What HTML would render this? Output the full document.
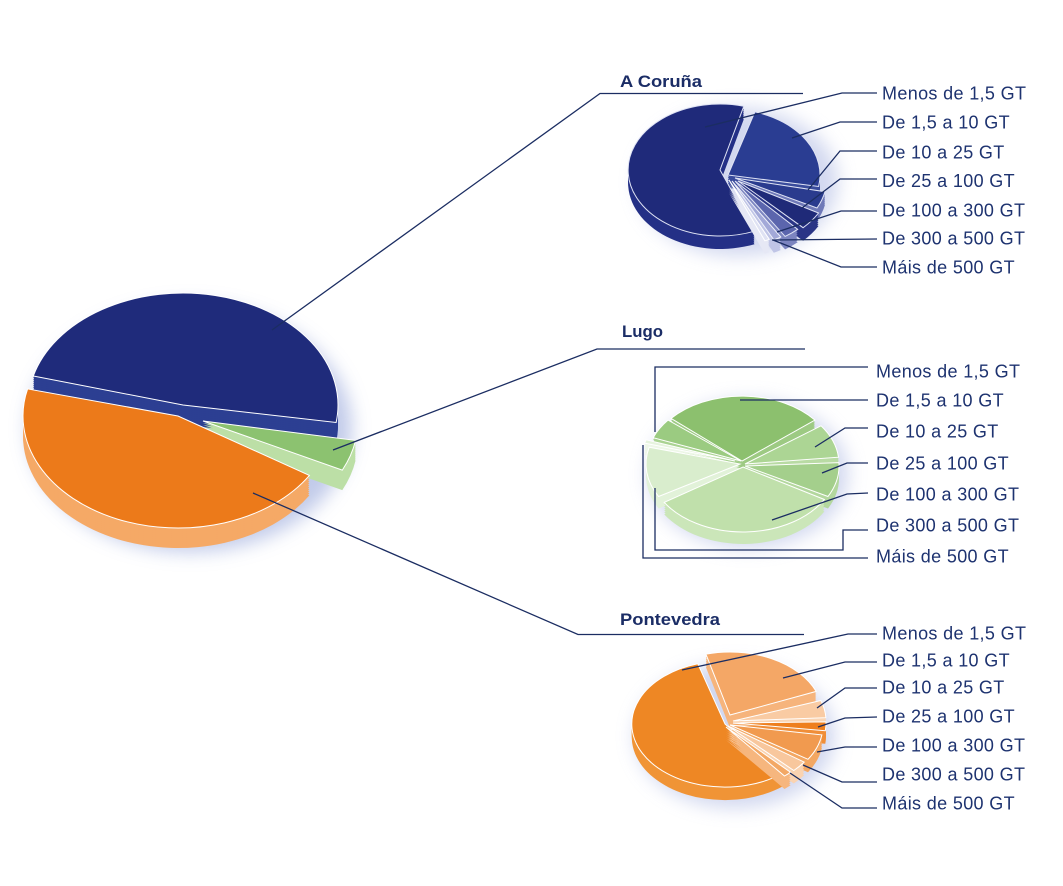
<!DOCTYPE html>
<html><head><meta charset="utf-8"><style>
html,body{margin:0;padding:0;background:#fff}
svg{display:block}
.l{font-family:"Liberation Sans",sans-serif;font-size:18px;fill:#1e3370;letter-spacing:0.35px}
.t{font-family:"Liberation Sans",sans-serif;font-size:16.5px;font-weight:bold;fill:#1b2d66}
.ln{fill:none;stroke:#1b2d62;stroke-width:1.3}
</style></head><body>
<svg width="1063" height="886" viewBox="0 0 1063 886" xmlns="http://www.w3.org/2000/svg">
<defs>
<filter id="bl" x="-30%" y="-30%" width="160%" height="160%"><feGaussianBlur stdDeviation="9"/></filter>
<path id="mb" d="M183,405 L33.3,376 A155,112 0 0,1 336.1,422.5 Z"/>
<path id="mg" d="M203,421 L355.6,440.4 A155,112 0 0,1 342.3,470.1 Z"/>
<path id="mo" d="M178,416 L309.4,475.4 A155,112 0 0,1 27.6,388.9 Z"/>
<path id="ca" d="M728,175 L754.9,111.9 A92,66 0 0,1 818.6,186.5 Z"/>
<path id="cb" d="M720,170 L754.5,231.2 A92,66 0 1,1 743.8,106.2 Z"/>
<path id="cc" d="M735,178 L825,191.7 A92,66 0 0,1 817,208 Z"/>
<path id="cd" d="M738,181 L818.5,213 A92,66 0 0,1 803.1,227.7 Z"/>
<path id="ce" d="M735,181 L797.7,229.3 A92,66 0 0,1 785.1,236.4 Z"/>
<path id="cf" d="M732,181 L780.8,237 A92,66 0 0,1 773.8,239.8 Z"/>
<path id="cg" d="M729,180 L769.3,239.3 A92,66 0 0,1 764.9,240.8 Z"/>
<path id="la" d="M742,461 L671.1,418.4 A94,65 0 0,1 815,420.1 Z"/>
<path id="lg" d="M741,461 L653.2,437.7 A94,65 0 0,1 668,420.1 Z"/>
<path id="lf" d="M735,461 L644.6,443.1 A94,65 0 0,1 646.1,439.8 Z"/>
<path id="lb" d="M745,464 L821,425.8 A94,65 0 0,1 838.5,457.2 Z"/>
<path id="lc" d="M745,466 L838.9,462.6 A94,65 0 0,1 828,496.5 Z"/>
<path id="le" d="M740,464 L658.6,496.5 A94,65 0 0,1 649.2,447.2 Z"/>
<path id="ld" d="M743,467 L824.4,499.5 A94,65 0 0,1 664.2,502.4 Z"/>
<path id="pa" d="M730,715 L705.9,654.1 A93,63 0 0,1 816.2,691.4 Z"/>
<path id="pb" d="M725,724 L782.3,773.6 A93,63 0 1,1 697.8,663.8 Z"/>
<path id="pc" d="M733,721 L820.9,700.5 A93,63 0 0,1 825.9,717.7 Z"/>
<path id="pd" d="M733,723 L826,721.9 A93,63 0 0,1 825.3,730.7 Z"/>
<path id="pe" d="M730,725 L821.9,734.9 A93,63 0 0,1 808,759.3 Z"/>
<path id="pf" d="M728,726 L804.2,762.1 A93,63 0 0,1 793.8,770.5 Z"/>
<path id="pg" d="M726,727 L790.6,772.3 A93,63 0 0,1 784.5,776 Z"/>
</defs>
<rect width="1063" height="886" fill="#fff"/>

<!-- halos -->
<ellipse cx="190" cy="428" rx="162" ry="124" fill="#b2bee4" opacity="0.8" filter="url(#bl)"/>
<ellipse cx="738" cy="182" rx="100" ry="74" fill="#c3cbea" opacity="0.75" filter="url(#bl)"/>
<ellipse cx="748" cy="474" rx="100" ry="74" fill="#c3cbea" opacity="0.75" filter="url(#bl)"/>
<ellipse cx="735" cy="736" rx="100" ry="72" fill="#c3cbea" opacity="0.75" filter="url(#bl)"/>

<!-- MAIN PIE -->
<g fill="#2c3f92"><use href="#mb" y="20"/><use href="#mb" y="18"/><use href="#mb" y="16"/><use href="#mb" y="14"/><use href="#mb" y="12"/><use href="#mb" y="10"/><use href="#mb" y="8"/><use href="#mb" y="6"/><use href="#mb" y="4"/><use href="#mb" y="2"/></g>
<use href="#mb" fill="#1f2b7b" stroke="#fff" stroke-width="1"/>
<g fill="#bcdfa6"><use href="#mg" y="20"/><use href="#mg" y="18"/><use href="#mg" y="16"/><use href="#mg" y="14"/><use href="#mg" y="12"/><use href="#mg" y="10"/><use href="#mg" y="8"/><use href="#mg" y="6"/><use href="#mg" y="4"/><use href="#mg" y="2"/></g>
<use href="#mg" fill="#8cc270" stroke="#fff" stroke-width="1"/>
<g fill="#f5a966"><use href="#mo" y="20"/><use href="#mo" y="18"/><use href="#mo" y="16"/><use href="#mo" y="14"/><use href="#mo" y="12"/><use href="#mo" y="10"/><use href="#mo" y="8"/><use href="#mo" y="6"/><use href="#mo" y="4"/><use href="#mo" y="2"/></g>
<use href="#mo" fill="#ec7a1a" stroke="#fff" stroke-width="1"/>

<!-- A CORUNA PIE -->
<g fill="#3a4c9c"><use href="#ca" y="13"/><use href="#ca" y="11"/><use href="#ca" y="9"/><use href="#ca" y="7"/><use href="#ca" y="5"/><use href="#ca" y="3"/><use href="#ca" y="1"/></g>
<use href="#ca" fill="#2a3d92" stroke="#dfe3f4" stroke-width="1"/>
<g fill="#243086"><use href="#cb" y="13"/><use href="#cb" y="11"/><use href="#cb" y="9"/><use href="#cb" y="7"/><use href="#cb" y="5"/><use href="#cb" y="3"/><use href="#cb" y="1"/></g>
<use href="#cb" fill="#1f2a7a" stroke="#dfe3f4" stroke-width="1"/>
<g fill="#6f79b8"><use href="#cc" y="13"/><use href="#cc" y="11"/><use href="#cc" y="9"/><use href="#cc" y="7"/><use href="#cc" y="5"/><use href="#cc" y="3"/><use href="#cc" y="1"/></g>
<use href="#cc" fill="#2a3b8e" stroke="#dfe3f4" stroke-width="1"/>
<g fill="#2a3586"><use href="#cd" y="13"/><use href="#cd" y="11"/><use href="#cd" y="9"/><use href="#cd" y="7"/><use href="#cd" y="5"/><use href="#cd" y="3"/><use href="#cd" y="1"/></g>
<use href="#cd" fill="#1f2a78" stroke="#dfe3f4" stroke-width="1"/>
<g fill="#7c85c0"><use href="#ce" y="13"/><use href="#ce" y="11"/><use href="#ce" y="9"/><use href="#ce" y="7"/><use href="#ce" y="5"/><use href="#ce" y="3"/><use href="#ce" y="1"/></g>
<use href="#ce" fill="#5b65ad" stroke="#dfe3f4" stroke-width="1"/>
<g fill="#c0c5e6"><use href="#cf" y="13"/><use href="#cf" y="11"/><use href="#cf" y="9"/><use href="#cf" y="7"/><use href="#cf" y="5"/><use href="#cf" y="3"/><use href="#cf" y="1"/></g>
<use href="#cf" fill="#a3a9d8" stroke="#eef0fa" stroke-width="1"/>
<g fill="#e6e8f5"><use href="#cg" y="13"/><use href="#cg" y="11"/><use href="#cg" y="9"/><use href="#cg" y="7"/><use href="#cg" y="5"/><use href="#cg" y="3"/><use href="#cg" y="1"/></g>
<use href="#cg" fill="#dfe2f3" stroke="#fff" stroke-width="1"/>

<!-- LUGO PIE -->
<g fill="#9dca83"><use href="#la" y="12"/><use href="#la" y="10"/><use href="#la" y="8"/><use href="#la" y="6"/><use href="#la" y="4"/><use href="#la" y="2"/></g>
<use href="#la" fill="#8cc06e" stroke="#fff" stroke-width="1"/>
<g fill="#aad392"><use href="#lg" y="12"/><use href="#lg" y="10"/><use href="#lg" y="8"/><use href="#lg" y="6"/><use href="#lg" y="4"/><use href="#lg" y="2"/></g>
<use href="#lg" fill="#9bcb81" stroke="#fff" stroke-width="1"/>
<g fill="#eef7e8"><use href="#lf" y="12"/><use href="#lf" y="10"/><use href="#lf" y="8"/><use href="#lf" y="6"/><use href="#lf" y="4"/><use href="#lf" y="2"/></g>
<use href="#lf" fill="#e6f3de" stroke="#fff" stroke-width="1"/>
<g fill="#b9dba4"><use href="#lb" y="12"/><use href="#lb" y="10"/><use href="#lb" y="8"/><use href="#lb" y="6"/><use href="#lb" y="4"/><use href="#lb" y="2"/></g>
<use href="#lb" fill="#acd594" stroke="#fff" stroke-width="1"/>
<g fill="#b3d79e"><use href="#lc" y="12"/><use href="#lc" y="10"/><use href="#lc" y="8"/><use href="#lc" y="6"/><use href="#lc" y="4"/><use href="#lc" y="2"/></g>
<use href="#lc" fill="#a4cf8c" stroke="#fff" stroke-width="1"/>
<g fill="#e2f2d9"><use href="#le" y="12"/><use href="#le" y="10"/><use href="#le" y="8"/><use href="#le" y="6"/><use href="#le" y="4"/><use href="#le" y="2"/></g>
<use href="#le" fill="#d9edcd" stroke="#fff" stroke-width="1"/>
<g fill="#cbe6b9"><use href="#ld" y="12"/><use href="#ld" y="10"/><use href="#ld" y="8"/><use href="#ld" y="6"/><use href="#ld" y="4"/><use href="#ld" y="2"/></g>
<use href="#ld" fill="#c0e0ab" stroke="#fff" stroke-width="1"/>

<!-- PONTEVEDRA PIE -->
<g fill="#f6b47c"><use href="#pa" y="13"/><use href="#pa" y="11"/><use href="#pa" y="9"/><use href="#pa" y="7"/><use href="#pa" y="5"/><use href="#pa" y="3"/><use href="#pa" y="1"/></g>
<use href="#pa" fill="#f4a766" stroke="#fff" stroke-width="1"/>
<g fill="#f09436"><use href="#pb" y="13"/><use href="#pb" y="11"/><use href="#pb" y="9"/><use href="#pb" y="7"/><use href="#pb" y="5"/><use href="#pb" y="3"/><use href="#pb" y="1"/></g>
<use href="#pb" fill="#ee8724" stroke="#fff" stroke-width="1"/>
<g fill="#fad5b4"><use href="#pc" y="13"/><use href="#pc" y="11"/><use href="#pc" y="9"/><use href="#pc" y="7"/><use href="#pc" y="5"/><use href="#pc" y="3"/><use href="#pc" y="1"/></g>
<use href="#pc" fill="#f9cba3" stroke="#fff" stroke-width="1"/>
<g fill="#f08e38"><use href="#pd" y="13"/><use href="#pd" y="11"/><use href="#pd" y="9"/><use href="#pd" y="7"/><use href="#pd" y="5"/><use href="#pd" y="3"/><use href="#pd" y="1"/></g>
<use href="#pd" fill="#ee7f1e" stroke="#fff" stroke-width="1"/>
<g fill="#f3a762"><use href="#pe" y="13"/><use href="#pe" y="11"/><use href="#pe" y="9"/><use href="#pe" y="7"/><use href="#pe" y="5"/><use href="#pe" y="3"/><use href="#pe" y="1"/></g>
<use href="#pe" fill="#f19a4f" stroke="#fff" stroke-width="1"/>
<g fill="#fad3b1"><use href="#pf" y="13"/><use href="#pf" y="11"/><use href="#pf" y="9"/><use href="#pf" y="7"/><use href="#pf" y="5"/><use href="#pf" y="3"/><use href="#pf" y="1"/></g>
<use href="#pf" fill="#f8c79d" stroke="#fff" stroke-width="1"/>
<g fill="#f6b67e"><use href="#pg" y="13"/><use href="#pg" y="11"/><use href="#pg" y="9"/><use href="#pg" y="7"/><use href="#pg" y="5"/><use href="#pg" y="3"/><use href="#pg" y="1"/></g>
<use href="#pg" fill="#f3a865" stroke="#fff" stroke-width="1"/>

<!-- main leader lines -->
<polyline class="ln" points="272,330 600,93.5 803,93.5"/>
<polyline class="ln" points="333,450 597,349 805,349"/>
<polyline class="ln" points="253,493 578,634.5 804,634.5"/>

<!-- A Coruna leaders -->
<g class="ln" stroke-width="1.2">
<polyline class="ln" points="877,93 842,93 705,127"/>
<polyline class="ln" points="877,122 840,122 792,138"/>
<polyline class="ln" points="877,151 840,151 808,190"/>
<polyline class="ln" points="877,179 840,179 802,208"/>
<polyline class="ln" points="877,211 841,211 777,232"/>
<polyline class="ln" points="877,239 772,240"/>
<polyline class="ln" points="877,267 841,267 773,240"/>
</g>

<!-- Lugo leaders -->
<polyline class="ln" points="868,367 655,367 655,432"/>
<polyline class="ln" points="868,400 740,400"/>
<polyline class="ln" points="868,428 845,428 815,447"/>
<polyline class="ln" points="868,463 847,463 822,473"/>
<polyline class="ln" points="868,493 847,494 772,520"/>
<polyline class="ln" points="868,530 843,530 843,550 655,550 655,488"/>
<polyline class="ln" points="868,558 643,558 643,445"/>

<!-- Pontevedra leaders -->
<polyline class="ln" points="877,634 848,634 682,670"/>
<polyline class="ln" points="877,662 845,662 783,678"/>
<polyline class="ln" points="877,688 845,688 817,708"/>
<polyline class="ln" points="877,717 845,718 818,727"/>
<polyline class="ln" points="877,747 845,747 817,752"/>
<polyline class="ln" points="877,782 842,782 803,765"/>
<polyline class="ln" points="877,808 842,808 790,773"/>

<!-- titles -->
<text class="t" x="620" y="87" textLength="82" lengthAdjust="spacingAndGlyphs">A Coruña</text>
<text class="t" x="622" y="337" textLength="41" lengthAdjust="spacingAndGlyphs">Lugo</text>
<text class="t" x="620" y="625" textLength="100" lengthAdjust="spacingAndGlyphs">Pontevedra</text>

<!-- A Coruna labels -->
<text class="l" x="882" y="99.5">Menos de 1,5 GT</text>
<text class="l" x="882" y="128.5">De 1,5 a 10 GT</text>
<text class="l" x="882" y="158.5">De 10 a 25 GT</text>
<text class="l" x="882" y="187">De 25 a 100 GT</text>
<text class="l" x="882" y="216.5">De 100 a 300 GT</text>
<text class="l" x="882" y="244.5">De 300 a 500 GT</text>
<text class="l" x="882" y="273.5">Máis de 500 GT</text>

<!-- Lugo labels -->
<text class="l" x="876" y="377.5">Menos de 1,5 GT</text>
<text class="l" x="876" y="406.5">De 1,5 a 10 GT</text>
<text class="l" x="876" y="437.5">De 10 a 25 GT</text>
<text class="l" x="876" y="469.5">De 25 a 100 GT</text>
<text class="l" x="876" y="500.5">De 100 a 300 GT</text>
<text class="l" x="876" y="531.5">De 300 a 500 GT</text>
<text class="l" x="876" y="562.5">Máis de 500 GT</text>

<!-- Pontevedra labels -->
<text class="l" x="882" y="639.5">Menos de 1,5 GT</text>
<text class="l" x="882" y="666.5">De 1,5 a 10 GT</text>
<text class="l" x="882" y="693.5">De 10 a 25 GT</text>
<text class="l" x="882" y="722.5">De 25 a 100 GT</text>
<text class="l" x="882" y="751.5">De 100 a 300 GT</text>
<text class="l" x="882" y="780.5">De 300 a 500 GT</text>
<text class="l" x="882" y="809.5">Máis de 500 GT</text>
</svg>
</body></html>
